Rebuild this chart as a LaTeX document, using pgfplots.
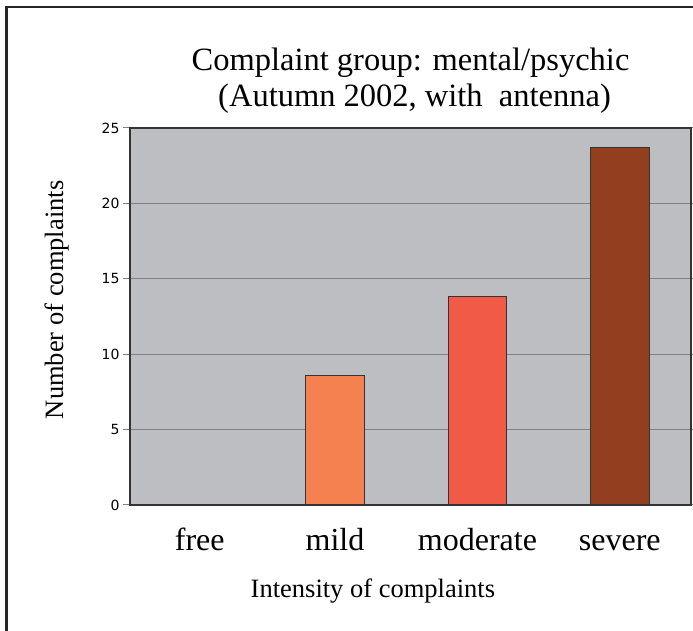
\documentclass[border=0pt]{standalone}
\usepackage{fontspec}
\setmainfont{Liberation Serif}
\newfontfamily\tickfont{DejaVu Sans}
\usepackage{pgfplots}
\pgfplotsset{compat=1.18}
\definecolor{bgc}{HTML}{BDBEC1}
\definecolor{gridc}{HTML}{808185}
\definecolor{mildc}{HTML}{F58151}
\definecolor{modc}{HTML}{F05A46}
\definecolor{sevc}{HTML}{933E1E}
\begin{document}
\begin{tikzpicture}[x=1pt,y=1pt]
\useasboundingbox (0,0) rectangle (693,631);
\draw[line width=2.3pt, color=black!85] (6.5,-5) -- (6.5,624) -- (700,624);
\begin{axis}[
  at={(130pt,126pt)}, anchor=south west,
  scale only axis, width=561pt, height=377pt,
  xmin=-0.44, xmax=3.5, ymin=0, ymax=25,
  axis background/.style={fill=bgc},
  axis line style={black!80, line width=1.4pt},
  ytick={0,5,10,15,20,25},
  ymajorgrids, grid style={gridc, line width=1pt},
  xtick={0.05,1,2,3}, xticklabels={free,mild,moderate,severe},
  xtick style={draw=none},
  ytick style={gridc, line width=1pt},
  tick align=outside, major tick length=7pt,
  /pgf/number format/assume math mode=true,
  y tick label style={font=\tickfont\fontsize{14}{14}\selectfont},
  x tick label style={font=\fontsize{32}{36}\selectfont, anchor=base, yshift=-39pt},
  xlabel={Intensity of complaints},
  xlabel style={font=\fontsize{26.5}{30}\selectfont, at={(rel axis cs:0.433,-0.246)}, anchor=base},
  ylabel={Number of complaints},
  ylabel style={font=\fontsize{26.5}{30}\selectfont, at={(rel axis cs:-0.1194,0.544)}, rotate=0, anchor=base},
  title={Complaint group: mental/psychic\\\hspace{0.25em}(Autumn 2002, with\ \ antenna)},
  title style={font=\fontsize{32.5}{36}\selectfont, align=center, at={(rel axis cs:0.5,1)}, anchor=south, inner sep=0pt, yshift=8pt},
  ybar, bar width=0.41, bar shift=0pt,
  clip=false,
]
\addplot[fill=mildc, draw=black!80, line width=1pt] coordinates {(1,8.6)};
\addplot[fill=modc, draw=black!80, line width=1pt] coordinates {(2,13.8)};
\addplot[fill=sevc, draw=black!80, line width=1pt] coordinates {(3,23.7)};
\end{axis}
\end{tikzpicture}
\end{document}
